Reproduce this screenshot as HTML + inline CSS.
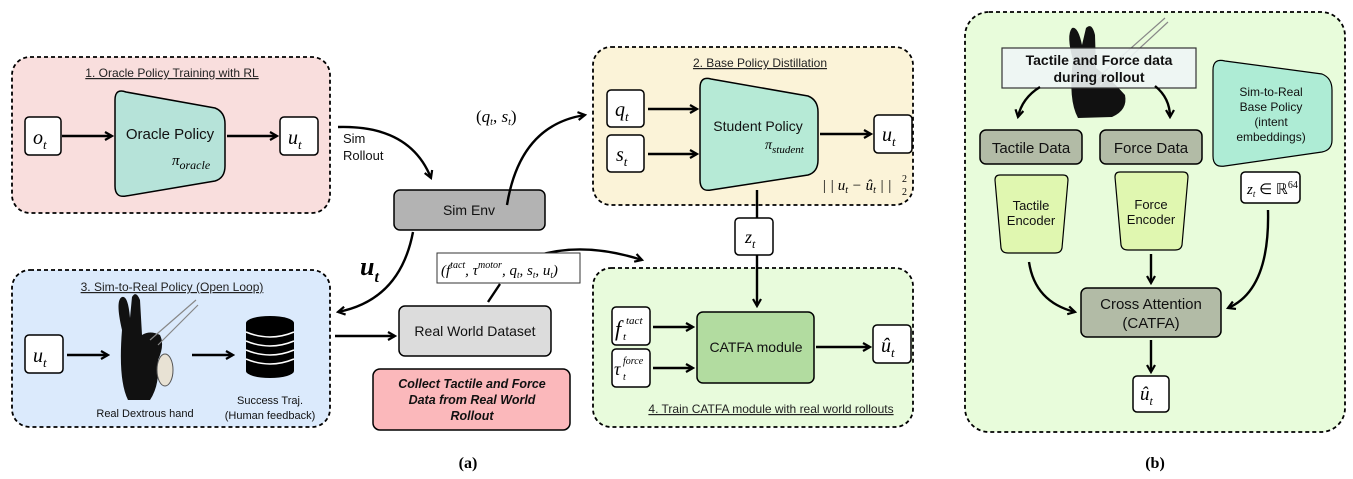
<!DOCTYPE html>
<html><head><meta charset="utf-8"><style>
html,body{margin:0;padding:0;background:#fff;}
svg{display:block;}
.s{font-family:"Liberation Sans",sans-serif;}
.m{font-family:"Liberation Serif",serif;font-style:italic;}
</style></head><body>
<svg width="1353" height="479" viewBox="0 0 1353 479" xmlns="http://www.w3.org/2000/svg">
<defs>
<marker id="a" markerWidth="10" markerHeight="10" refX="8" refY="5" orient="auto" markerUnits="userSpaceOnUse">
<path d="M1,1 L8,5 L1,9" fill="none" stroke="#000" stroke-width="2.2"/>
</marker>
</defs>
<g stroke="#000" stroke-width="1.8" stroke-dasharray="4,3">
<rect x="12" y="57" width="318" height="156" rx="18" fill="#f9dedd"/>
<rect x="593" y="47" width="320" height="158" rx="18" fill="#fbf3d8"/>
<rect x="12" y="270" width="318" height="157" rx="18" fill="#dbeafc"/>
<rect x="593" y="268" width="320" height="159" rx="18" fill="#e8fbdc"/>
<rect x="965" y="12" width="380" height="420" rx="24" fill="#e8fcdb"/>
</g>
<g class="s" font-size="12" text-anchor="middle" text-decoration="underline" fill="#222">
<text x="172" y="77">1. Oracle Policy Training with RL</text>
<text x="760" y="67">2. Base Policy Distillation</text>
<text x="172" y="291">3. Sim-to-Real Policy (Open Loop)</text>
<text x="771" y="413">4. Train CATFA module with real world rollouts</text>
</g>
<g stroke="#000" stroke-width="1.5" fill="#fff">
<rect x="25" y="117" width="36" height="38" rx="4"/>
<rect x="280" y="117" width="38" height="38" rx="4"/>
<rect x="607" y="90" width="37" height="37" rx="4"/>
<rect x="607" y="135" width="37" height="37" rx="4"/>
<rect x="874" y="115" width="38" height="38" rx="4"/>
<rect x="735" y="218" width="38" height="37" rx="4"/>
<rect x="612" y="307" width="38" height="38" rx="4"/>
<rect x="612" y="349" width="38" height="38" rx="4"/>
<rect x="873" y="325" width="38" height="38" rx="4"/>
<rect x="25" y="335" width="38" height="38" rx="4"/>
<rect x="1241" y="172" width="59" height="31" rx="4"/>
<rect x="1133" y="376" width="36" height="36" rx="4"/>
</g>
<path d="M115,100 Q115,88 126,92 L215,108 Q225,112 225,124 L225,166 Q225,178 215,181 L126,196 Q115,198 115,186 Z" fill="#b6e3d9" stroke="#000" stroke-width="1.5"/>
<path d="M700,88 Q700,76 711,79 L808,96 Q818,100 818,112 L818,160 Q818,172 808,175 L711,190 Q700,192 700,180 Z" fill="#b6ead6" stroke="#000" stroke-width="1.5"/>
<path d="M1213,70 Q1213,58 1225,61 L1322,74 Q1332,78 1332,90 L1332,140 Q1332,150 1322,152 L1225,166 Q1213,168 1213,156 Z" fill="#aeecd5" stroke="#000" stroke-width="1.2"/>
<path d="M995,180 Q995,175 1000,175 L1063,175 Q1068,175 1068,180 L1062,248 Q1061,253 1055,253 L1008,253 Q1002,253 1001,248 Z" fill="#e0f7b0" stroke="#000" stroke-width="1.2"/>
<path d="M1115,177 Q1115,172 1120,172 L1183,172 Q1188,172 1188,177 L1182,245 Q1181,250 1175,250 L1128,250 Q1122,250 1121,245 Z" fill="#e0f7b0" stroke="#000" stroke-width="1.2"/>
<rect x="394" y="190" width="151" height="40" rx="6" fill="#b3b3b3" stroke="#000" stroke-width="1.5"/>
<rect x="399" y="306" width="152" height="50" rx="6" fill="#dcdcdc" stroke="#000" stroke-width="1.5"/>
<rect x="373" y="369" width="197" height="61" rx="7" fill="#fbb8bb" stroke="#000" stroke-width="1.5"/>
<rect x="697" y="312" width="117" height="71" rx="6" fill="#b2dca0" stroke="#000" stroke-width="1.5"/>
<rect x="980" y="130" width="102" height="34" rx="6" fill="#b2bba6" stroke="#000" stroke-width="1.5"/>
<rect x="1100" y="130" width="102" height="34" rx="6" fill="#b2bba6" stroke="#000" stroke-width="1.5"/>
<rect x="1081" y="288" width="140" height="49" rx="6" fill="#b2bba6" stroke="#000" stroke-width="1.5"/>
<!-- hands -->
<g fill="#111">
<path d="M122,330 Q115,300 122,297 Q128,295 130,318 L132,297 Q136,290 140,300 L142,335 Q150,330 160,335 Q165,345 158,360 Q160,385 150,400 L128,400 Q118,380 122,330Z"/>
<path d="M1073,60 Q1066,35 1072,28 Q1078,26 1082,45 L1086,28 Q1092,22 1095,35 L1096,68 Q1110,78 1125,95 Q1128,110 1112,117 L1078,118 Q1068,100 1073,60Z"/>
</g>
<g stroke="#888" stroke-width="1.2" fill="none">
<path d="M150,340 L196,300 M158,345 L198,305"/>
<path d="M1095,80 L1165,18 M1100,85 L1168,22"/>
</g>
<ellipse cx="165" cy="370" rx="8" ry="16" fill="#e8e2d4" stroke="#555"/>
<rect x="1002" y="48" width="194" height="40" fill="#eef5f5" fill-opacity="0.9" stroke="#333" stroke-width="1.2"/>
<!-- database -->
<g fill="#000">
<ellipse cx="270" cy="323" rx="24" ry="7"/>
<rect x="246" y="323" width="48" height="48"/>
<ellipse cx="270" cy="371" rx="24" ry="7"/>
</g>
<g stroke="#fff" stroke-width="1.5" fill="none">
<path d="M246,332 Q270,342 294,332"/><path d="M246,341 Q270,351 294,341"/><path d="M246,350 Q270,360 294,350"/><path d="M246,359 Q270,369 294,359"/>
</g>
<!-- arrows -->
<g stroke="#000" stroke-width="2.4" fill="none" marker-end="url(#a)">
<path d="M62,136 L112,136"/><path d="M227,136 L277,136"/>
<path d="M338,127 Q410,125 431,178"/>
<path d="M507,205 Q520,125 585,115"/>
<path d="M648,109 L697,109"/><path d="M648,154 L697,154"/>
<path d="M820,134 L871,134"/>
<path d="M757,255 L757,306"/>
<path d="M653,327 L693,327"/><path d="M653,368 L693,368"/>
<path d="M816,347 L870,347"/>
<path d="M413,232 Q400,300 338,312"/>
<path d="M335,336 L395,336"/>
<path d="M67,355 L108,355"/><path d="M192,355 L233,355"/>
<path d="M530,258 Q580,240 642,260"/>
<path d="M1040,87 Q1022,98 1018,117"/>
<path d="M1155,86 Q1170,98 1170,117"/>
<path d="M1029,262 Q1035,302 1075,312"/>
<path d="M1151,254 L1151,283"/>
<path d="M1268,210 Q1270,290 1228,308"/>
<path d="M1151,340 L1151,372"/>
</g>
<path d="M757,190 L757,218" stroke="#000" stroke-width="2.4"/>
<path d="M488,302 L500,284" stroke="#000" stroke-width="2.4"/>
<rect x="437" y="253" width="143" height="30" fill="#fff" stroke="#333" stroke-width="1"/>
<!-- text -->
<g class="s" fill="#111" text-anchor="middle">
<text x="170" y="139" font-size="15">Oracle Policy</text>
<text x="758" y="131" font-size="14">Student Policy</text>
<text x="469" y="215" font-size="14">Sim Env</text>
<text x="475" y="336" font-size="14">Real World Dataset</text>
<text x="756" y="352" font-size="14">CATFA module</text>
<text x="145" y="417" font-size="11">Real Dextrous hand</text>
<text x="270" y="404" font-size="11">Success Traj.</text>
<text x="270" y="419" font-size="11">(Human feedback)</text>
<text x="1031" y="153" font-size="15">Tactile Data</text>
<text x="1151" y="153" font-size="15">Force Data</text>
<text x="1031" y="210" font-size="13">Tactile</text>
<text x="1031" y="225" font-size="13">Encoder</text>
<text x="1151" y="209" font-size="13">Force</text>
<text x="1151" y="224" font-size="13">Encoder</text>
<text x="1271" y="96" font-size="12">Sim-to-Real</text>
<text x="1271" y="111" font-size="12">Base Policy</text>
<text x="1271" y="126" font-size="12">(intent</text>
<text x="1271" y="141" font-size="12">embeddings)</text>
<text x="1151" y="309" font-size="15">Cross Attention</text>
<text x="1151" y="328" font-size="15">(CATFA)</text>
<text x="1099" y="65" font-size="14" font-weight="bold">Tactile and Force data</text>
<text x="1099" y="82" font-size="14" font-weight="bold">during rollout</text>
<text x="472" y="388" font-size="12.5" font-weight="bold" font-style="italic">Collect Tactile and Force</text>
<text x="472" y="404" font-size="12.5" font-weight="bold" font-style="italic">Data from Real World</text>
<text x="472" y="420" font-size="12.5" font-weight="bold" font-style="italic">Rollout</text>
</g>
<g class="s" font-size="13" fill="#111">
<text x="343" y="143">Sim</text><text x="343" y="160">Rollout</text>
</g>
<g class="m" fill="#000">
<text x="33" y="144" font-size="20">o<tspan font-size="13" dy="5">t</tspan></text>
<text x="288" y="144" font-size="20">u<tspan font-size="13" dy="5">t</tspan></text>
<text x="172" y="165" font-size="15">π<tspan font-size="12" dy="4">oracle</tspan></text>
<text x="765" y="149" font-size="14">π<tspan font-size="11" dy="4">student</tspan></text>
<text x="615" y="116" font-size="20">q<tspan font-size="13" dy="5">t</tspan></text>
<text x="616" y="161" font-size="20">s<tspan font-size="13" dy="5">t</tspan></text>
<text x="882" y="141" font-size="20">u<tspan font-size="13" dy="5">t</tspan></text>
<text x="822" y="190" font-size="15">| | u<tspan font-size="10" dy="3">t</tspan><tspan dy="-3"> − û</tspan><tspan font-size="10" dy="3">t</tspan><tspan dy="-3"> | |</tspan></text>
<text x="902" y="182" font-size="10" font-style="normal">2</text>
<text x="902" y="195" font-size="10" font-style="normal">2</text>
<text x="745" y="243" font-size="18">z<tspan font-size="12" dy="5">t</tspan></text>
<text x="615" y="336" font-size="22">f</text>
<text x="626" y="324" font-size="11">tact</text>
<text x="623" y="340" font-size="11">t</text>
<text x="614" y="375" font-size="18">τ</text>
<text x="623" y="364" font-size="10">force</text>
<text x="623" y="380" font-size="10">t</text>
<text x="881" y="352" font-size="20">û<tspan font-size="13" dy="5">t</tspan></text>
<text x="33" y="362" font-size="20">u<tspan font-size="13" dy="5">t</tspan></text>
<text x="360" y="275" font-size="26" font-weight="bold">u<tspan font-size="16" dy="7">t</tspan></text>
<text x="476" y="122" font-size="17" font-style="normal">(<tspan font-style="italic">q</tspan><tspan font-size="10" dy="3" font-style="italic">t</tspan><tspan dy="-3">, </tspan><tspan font-style="italic">s</tspan><tspan font-size="10" dy="3" font-style="italic">t</tspan><tspan dy="-3">)</tspan></text>
<text x="441" y="275" font-size="15">(f<tspan font-size="10" dy="-7">tact</tspan><tspan dy="7">, τ</tspan><tspan font-size="10" dy="-7">motor</tspan><tspan dy="7">, q</tspan><tspan font-size="9" dy="3">t</tspan><tspan dy="-3">, s</tspan><tspan font-size="9" dy="3">t</tspan><tspan dy="-3">, u</tspan><tspan font-size="9" dy="3">t</tspan><tspan dy="-3">)</tspan></text>
<text x="1247" y="194" font-size="15">z<tspan font-size="9" dy="3">t</tspan><tspan dy="-3" font-style="normal"> ∈ ℝ</tspan><tspan font-size="10" dy="-6" font-style="normal">64</tspan></text>
<text x="1140" y="400" font-size="19">û<tspan font-size="12" dy="5">t</tspan></text>
</g>
<g font-family="Liberation Serif,serif" font-weight="bold" font-size="16" text-anchor="middle">
<text x="468" y="468">(a)</text>
<text x="1155" y="468">(b)</text>
</g>
</svg>
</body></html>
